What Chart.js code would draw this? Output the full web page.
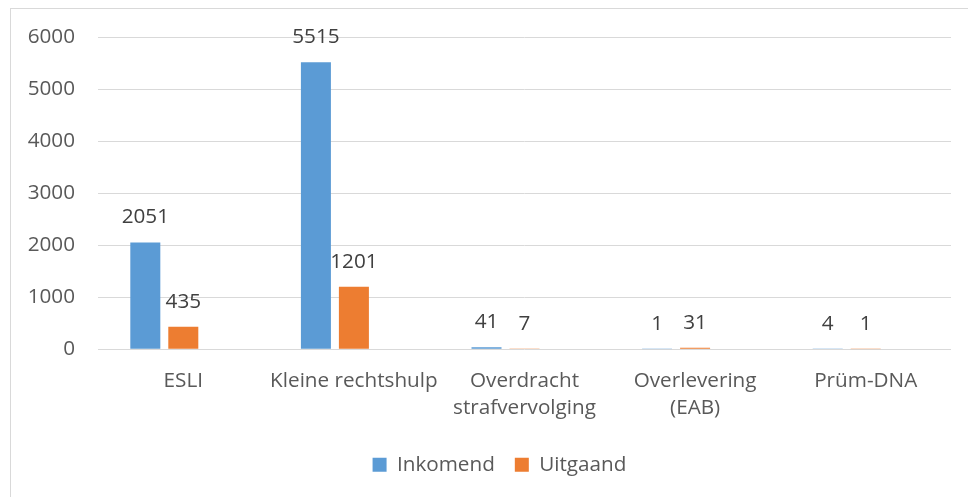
<!DOCTYPE html>
<html>
<head>
<meta charset="utf-8">
<script src="https://cdn.jsdelivr.net/npm/chart.js@4.4.1/dist/chart.umd.min.js"></script>
<style>
  html, body { margin: 0; padding: 0; background: #fff; overflow: hidden; }
  #wrap { position: relative; width: 968px; height: 497px; }
</style>
</head>
<body>
<div id="wrap"><canvas id="barChart"></canvas></div>
<script>
const categories = ["ESLI", "Kleine rechtshulp", ["Overdracht", "strafvervolging"], ["Overlevering", "(EAB)"], "Prüm-DNA"];
const inkomend = [2051, 5515, 41, 1, 4];
const uitgaand = [435, 1201, 7, 31, 1];
// empty third series: the original keeps a blank slot after each pair
const leeg = [null, null, null, null, null];
const yTicks = [0, 1000, 2000, 3000, 4000, 5000, 6000];

const textColor = "#595959";
const font = { family: "'Open Sans', sans-serif", size: 20.7 };

// frame around the chart (only top and left edge are in view)
const framePlugin = {
  id: "frame",
  beforeDraw(chart) {
    const ctx = chart.ctx;
    ctx.save();
    ctx.strokeStyle = "#d9d9d9";
    ctx.lineWidth = 1;
    ctx.strokeRect(10.5, 8.5, 1000, 600);
    ctx.restore();
  },
  // the original frame is wider than the picture, so the legend sits a bit right of centre
  afterLayout(chart) {
    chart.legend.left = 48;
  },
};

// value labels above the bars
const valueLabels = {
  id: "valueLabels",
  afterDatasetsDraw(chart) {
    const ctx = chart.ctx;
    ctx.save();
    ctx.font = "20.7px 'Open Sans', sans-serif";
    ctx.fillStyle = "#404040";
    ctx.textAlign = "center";
    ctx.textBaseline = "middle";
    chart.data.datasets.forEach((ds, i) => {
      const meta = chart.getDatasetMeta(i);
      meta.data.forEach((bar, j) => {
        const v = ds.data[j];
        if (v === null || v === undefined) return;
        ctx.fillText(String(v), bar.x, bar.y - 25);
      });
    });
    ctx.restore();
  },
};

const data = {
  labels: categories,
  datasets: [
    { label: "Inkomend", data: inkomend, backgroundColor: "#5b9bd5" },
    { label: "Uitgaand", data: uitgaand, backgroundColor: "#ed7d31" },
    { label: "", data: leeg, backgroundColor: "rgba(0,0,0,0)" },
  ],
};

const myChart = new Chart(document.getElementById("barChart").getContext("2d"), {
  type: "bar",
  data,
  plugins: [framePlugin, valueLabels],
  options: {
    responsive: true,
    maintainAspectRatio: false,
    animation: { duration: 0 },
    layout: {
      padding: { left: 0, right: 17, top: 37, bottom: 12 },
    },
    datasets: {
      bar: {
        categoryPercentage: 0.668,
        barPercentage: 0.79,
      },
    },
    plugins: {
      legend: {
        position: "bottom",
        labels: {
          color: textColor,
          font: font,
          boxWidth: 14,
          boxHeight: 14,
          padding: 20,
          filter: (item) => item.text !== "",
        },
      },
      tooltip: { enabled: false },
    },
    scales: {
      x: {
        grid: { display: false },
        border: { display: false },
        ticks: {
          color: textColor,
          font: { family: font.family, size: 20.7, lineHeight: 1.32 },
          padding: 10,
          maxRotation: 0,
          autoSkip: false,
        },
        afterFit(scale) {
          scale.height = 85;
        },
      },
      y: {
        min: 0,
        max: 6000,
        afterBuildTicks(scale) {
          scale.ticks = yTicks.map((v) => ({ value: v }));
        },
        grid: { color: "#d9d9d9", lineWidth: 1, drawTicks: false },
        border: { display: false },
        ticks: {
          color: textColor,
          font: font,
          padding: 23,
          callback: (v) => String(v),
        },
        afterFit(scale) {
          scale.width = 98;
        },
      },
    },
  },
});

myChart.update();
</script>
</body>
</html>
